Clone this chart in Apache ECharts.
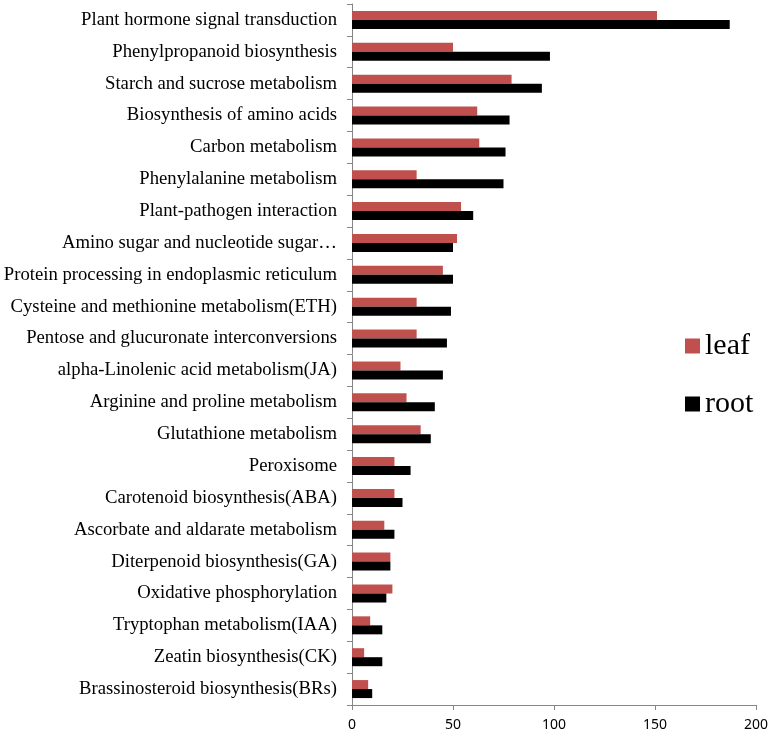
<!DOCTYPE html>
<html><head><meta charset="utf-8">
<script src="https://cdn.jsdelivr.net/npm/echarts@6/dist/echarts.min.js"></script>
<style>html,body{margin:0;padding:0;background:#fff}#c{width:771px;height:732px}</style>
</head><body><div id="c"></div>
<script>
const categories = [
  "Plant hormone signal transduction",
  "Phenylpropanoid biosynthesis",
  "Starch and sucrose metabolism",
  "Biosynthesis of amino acids",
  "Carbon metabolism",
  "Phenylalanine metabolism",
  "Plant-pathogen interaction",
  "Amino sugar and nucleotide sugar\u2026",
  "Protein processing in endoplasmic reticulum",
  "Cysteine and methionine metabolism(ETH)",
  "Pentose and glucuronate interconversions",
  "alpha-Linolenic acid metabolism(JA)",
  "Arginine and proline metabolism",
  "Glutathione metabolism",
  "Peroxisome",
  "Carotenoid biosynthesis(ABA)",
  "Ascorbate and aldarate metabolism",
  "Diterpenoid biosynthesis(GA)",
  "Oxidative phosphorylation",
  "Tryptophan metabolism(IAA)",
  "Zeatin biosynthesis(CK)",
  "Brassinosteroid biosynthesis(BRs)"
];
const leaf = [151, 50, 79, 62, 63, 32, 54, 52, 45, 32, 32, 24, 27, 34, 21, 21, 16, 19, 20, 9, 6, 8];
const root = [187, 98, 94, 78, 76, 75, 60, 50, 50, 49, 47, 45, 41, 39, 29, 25, 21, 19, 17, 15, 15, 10];
const xTicks = [0, 50, 100, 150, 200];

const chart = echarts.init(document.getElementById('c'), null, {renderer: 'canvas'});
chart.setOption({
  animation: false,
  grid: {left: 352, right: 15, top: 4, bottom: 27, containLabel: false},
  legend: {
    orient: 'vertical', left: 680, top: 326,
    itemWidth: 15, itemHeight: 15, itemGap: 28,
    icon: 'rect',
    textStyle: {fontFamily: 'Liberation Serif', fontSize: 30, color: '#000'},
    data: ['leaf', 'root']
  },
  xAxis: {
    type: 'value', min: xTicks[0], max: xTicks[xTicks.length - 1], interval: 50,
    splitLine: {show: false},
    axisLine: {show: true, lineStyle: {color: '#868686'}},
    axisTick: {show: true, length: 5, lineStyle: {color: '#868686'}},
    axisLabel: {fontFamily: 'Noto Sans', fontSize: 14, color: '#000', margin: 13}
  },
  yAxis: {
    type: 'category', data: categories, inverse: true,
    axisLine: {show: true, lineStyle: {color: '#868686'}},
    axisTick: {show: true, length: 5, lineStyle: {color: '#868686'}},
    axisLabel: {fontFamily: 'Liberation Serif', fontSize: 18.7, color: '#000', margin: 15}
  },
  series: [
    {name: 'leaf', type: 'bar', data: leaf, barWidth: 9, barGap: '0%',
     itemStyle: {color: '#C0504D'}},
    {name: 'root', type: 'bar', data: root, barWidth: 9, barGap: '0%',
     itemStyle: {color: '#000000'}}
  ]
});
</script></body></html>
